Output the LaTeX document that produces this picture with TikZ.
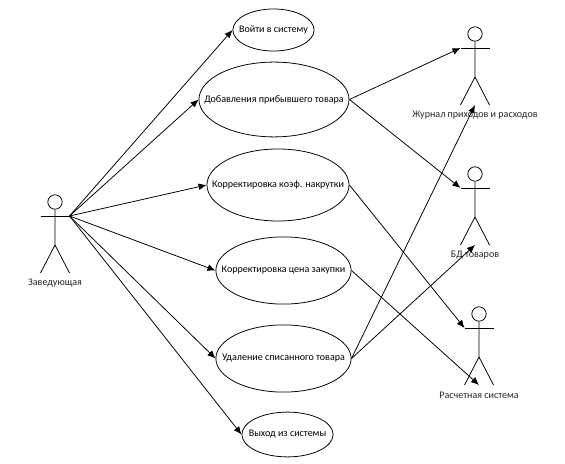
\documentclass[tikz,border=0pt]{standalone}
\usepackage{fontspec}
\setmainfont{Carlito}
\usetikzlibrary{arrows.meta,positioning,shapes.geometric}
\newcommand{\uctext}[1]{\makebox[0pt]{#1}}
\begin{document}
\begin{tikzpicture}[x=0.025cm,y=-0.025cm,line width=0.55pt,
      usecase/.style={ellipse,draw=black,inner sep=0pt,font=\fontsize{7.15}{9}\selectfont},
      head/.style={circle,draw=black,minimum size=0.36cm,inner sep=0pt},
      label/.style={inner sep=0pt,text=black!85,font=\fontsize{7.15}{9}\selectfont},
      flow/.style={-{Latex[length=2.0mm,width=1.7mm]},black}
    ]
    \useasboundingbox (0,0) rectangle (565,464);

    \node[usecase,minimum width=2.03cm,minimum height=1.05cm] (login) at (273.5,30) {\uctext{Войти в систему}};
    \node[usecase,minimum width=3.75cm,minimum height=1.87cm] (add) at (274,99.5) {\uctext{Добавления прибывшего товара}};
    \node[usecase,minimum width=3.55cm,minimum height=1.80cm] (markup) at (278,185) {\uctext{Корректировка коэф. накрутки}};
    \node[usecase,minimum width=3.38cm,minimum height=1.68cm] (price) at (283.5,270.5) {\uctext{Корректировка цена закупки}};
    \node[usecase,minimum width=3.38cm,minimum height=1.68cm] (remove) at (283.5,358.5) {\uctext{Удаление списанного товара}};
    \node[usecase,minimum width=2.28cm,minimum height=1.12cm] (logout) at (287.5,434.5) {\uctext{Выход из системы}};

    % Человечки: голова, руки, туловище, ноги
    \foreach \n/\x/\y/\t in {
      head/55/202/Заведующая,journal/475/34/Журнал приходов и расходов,
      goods/475/174/БД товаров,calc/479/314/Расчетная система}{
      \node[head] (\n) at (\x,\y) {};
      \coordinate (\n-l) at (\x-14.5,\y+14);
      \coordinate (\n-r) at (\x+14.5,\y+14);
      \coordinate (\n-h) at (\x,\y+43);
      \coordinate (\n-a) at (\x-14.5,\y+71);
      \coordinate (\n-b) at (\x+14.5,\y+71);
      \draw (\n-l) -- (\n-r);
      \draw (\n.south) -- (\n-h) -- (\n-a);
      \draw (\n-h) -- (\n-b);
      \node[label] (\n-t) at (\x,\y+81) {\t};
    }
    \coordinate (journal-f) at (475,105);
    \coordinate (goods-f) at (475,245);
    \coordinate (calc-f) at (479,385);

    \foreach \u in {login,add,markup,price,remove,logout}{
      \draw[flow] (head-r) -- (\u.west);
    }
    \draw[flow] (add.east) -- (journal-l);
    \draw[flow] (add.east) -- (goods-l);
    \draw[flow] (markup.east) -- (calc-l);
    \draw[flow] (price.east) -- (calc-f);
    \draw[flow] (remove.east) -- (journal-f);
    \draw[flow] (remove.east) -- (goods-f);
  \end{tikzpicture}
\end{document}
